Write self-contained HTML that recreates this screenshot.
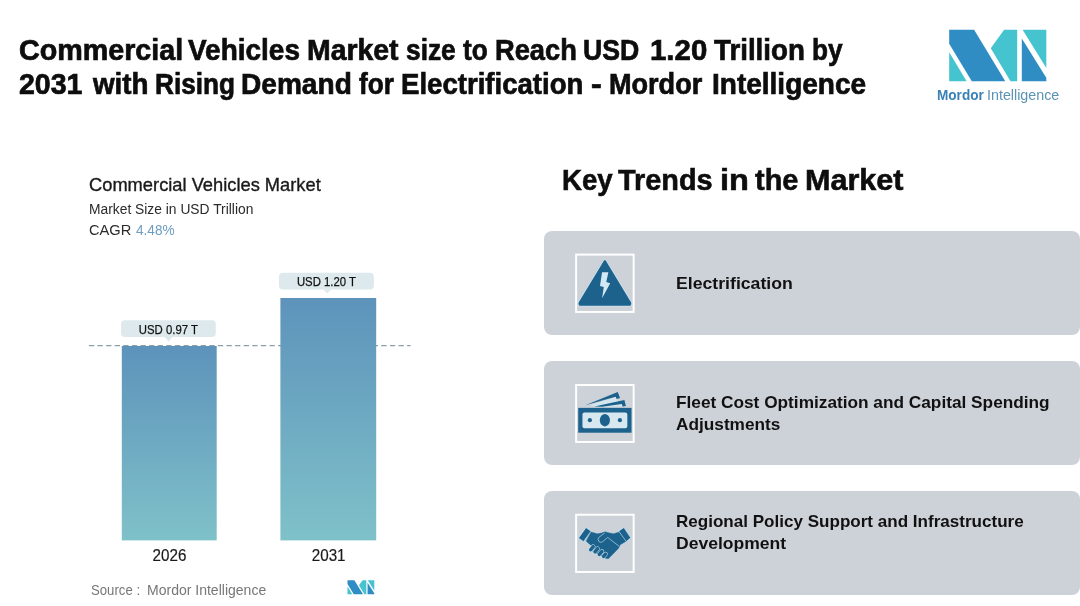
<!DOCTYPE html>
<html lang="en">
<head>
<meta charset="utf-8">
<title>Commercial Vehicles Market</title>
<style>
html,body{margin:0;padding:0;}
body{width:1080px;height:606px;position:relative;overflow:hidden;background:#ffffff;font-family:"Liberation Sans",sans-serif;color:#111;}
.abs{position:absolute;white-space:nowrap;line-height:1;transform-origin:0 50%;}
.title{left:0;font-weight:bold;font-size:29.1px;color:#0d0d0d;-webkit-text-stroke:0.7px #0d0d0d;}
.wl{width:1080px;height:1em;}
.wl span{position:absolute;top:0;white-space:nowrap;transform-origin:0 50%;}
#t1{top:35.8px;}
#t2{top:69.8px;}
.card{position:absolute;left:544.3px;width:535.3px;height:104px;background:#cdd2d9;border-radius:8px;}
.ctext{font-weight:bold;font-size:17px;color:#111;left:676px;}
</style>
</head>
<body>
<div class="abs title wl" id="t1"><span style="left:19.2px;transform:scaleX(0.9859)">Commercial</span> <span style="left:188.2px;transform:scaleX(0.9612)">Vehicles</span> <span style="left:306.8px;transform:scaleX(0.9763)">Market</span> <span style="left:406.0px;transform:scaleX(0.9048)">size</span> <span style="left:462.9px;transform:scaleX(0.9000)">to</span> <span style="left:494.5px;transform:scaleX(0.9375)">Reach</span> <span style="left:583.4px;transform:scaleX(0.9161)">USD</span> <span style="left:650.3px;transform:scaleX(1.0108)">1.20</span> <span style="left:713.9px;transform:scaleX(0.9525)">Trillion</span> <span style="left:811.5px;transform:scaleX(0.9000)">by</span></div>
<div class="abs title wl" id="t2"><span style="left:19.3px;transform:scaleX(0.9802)">2031</span> <span style="left:93.0px;transform:scaleX(0.9549)">with</span> <span style="left:155.0px;transform:scaleX(0.9000)">Rising</span> <span style="left:240.8px;transform:scaleX(0.9651)">Demand</span> <span style="left:358.6px;transform:scaleX(0.9000)">for</span> <span style="left:400.8px;transform:scaleX(0.9479)">Electrification</span> <span style="left:591.4px;transform:scaleX(1.1000)">-</span> <span style="left:609.3px;transform:scaleX(0.9302)">Mordor</span> <span style="left:711.8px;transform:scaleX(0.9627)">Intelligence</span></div>

<!-- logo -->
<svg class="abs" style="left:940px;top:20px" width="120" height="70" viewBox="940 20 120 70">
<polygon points="949.2,29.8 974.1,29.8 1005.3,81.2 971.8,81.2 949.2,43.7" fill="#2f8dc3"/>
<polygon points="949.2,52.3 966.6,81.2 949.2,81.2" fill="#45c3cf"/>
<polygon points="1004.1,29.8 1017.2,29.8 1017.2,81.2 1010.5,81.2 990.8,48.3" fill="#45c3cf"/>
<polygon points="1022.6,29.8 1046.3,29.8 1046.3,67.9" fill="#45c3cf"/>
<polygon points="1021.8,38.5 1046.3,77.7 1046.3,81.2 1021.8,81.2" fill="#2f8dc3"/>
</svg>
<div class="abs" id="lg1" style="left:936.8px;top:87.3px;font-size:15px;font-weight:bold;color:#3a82b5;transform:scaleX(0.906);">Mordor</div>
<div class="abs" id="lg2" style="left:986.6px;top:87.3px;font-size:15px;color:#5b93b5;transform:scaleX(0.953);">Intelligence</div>

<!-- chart text -->
<div class="abs" id="c1" style="left:89.2px;top:175.7px;font-size:18.1px;color:#1a1a1a;transform:scaleX(1.011);-webkit-text-stroke:0.35px #1a1a1a;">Commercial Vehicles Market</div>
<div class="abs" id="c2" style="left:89.1px;top:201.2px;font-size:15.1px;color:#2a2a2a;transform:scaleX(0.9155);">Market Size in USD Trillion</div>
<div class="abs" id="c3" style="left:89.1px;top:222.8px;font-size:14.8px;color:#2a2a2a;transform:scaleX(0.99);">CAGR</div>
<div class="abs" id="c4" style="left:136.2px;top:222.8px;font-size:14.8px;color:#6d9dc0;transform:scaleX(0.919);">4.48%</div>

<!-- chart -->
<svg class="abs" style="left:0;top:260px" width="480" height="346" viewBox="0 260 480 346">
<defs>
<linearGradient id="bg" x1="0" y1="0" x2="0" y2="1">
<stop offset="0" stop-color="#5d93bb"/>
<stop offset="1" stop-color="#7fc1c9"/>
</linearGradient>
</defs>
<line x1="88.9" y1="345.7" x2="410.5" y2="345.7" stroke="#8a9fa6" stroke-width="1.2" stroke-dasharray="5.3 3.3"/>
<rect x="121.8" y="346" width="94.9" height="194.4" fill="url(#bg)"/>
<rect x="280.4" y="298" width="95.8" height="242.4" fill="url(#bg)"/>
<rect x="121" y="320.2" width="94.8" height="16.8" rx="4" fill="#dde9ec"/>
<polygon points="164.6,336.8 172.6,336.8 168.6,341.6" fill="#dde9ec"/>
<rect x="279" y="272.8" width="94.9" height="16.8" rx="4" fill="#dde9ec"/>
<polygon points="323.3,289.4 331.3,289.4 327.3,293.2" fill="#dde9ec"/>
<g transform="translate(347.5,580.3) scale(0.2763,0.272)">
<g transform="translate(-949.2,-29.8)">
<polygon points="949.2,29.8 974.1,29.8 1005.3,81.2 971.8,81.2 949.2,43.7" fill="#2f8dc3"/>
<polygon points="949.2,52.3 966.6,81.2 949.2,81.2" fill="#45c3cf"/>
<polygon points="1004.1,29.8 1017.2,29.8 1017.2,81.2 1010.5,81.2 990.8,48.3" fill="#45c3cf"/>
<polygon points="1022.6,29.8 1046.3,29.8 1046.3,67.9" fill="#45c3cf"/>
<polygon points="1021.8,38.5 1046.3,77.7 1046.3,81.2 1021.8,81.2" fill="#2f8dc3"/>
</g></g>
</svg>
<div class="abs" id="l1" style="left:121px;width:94.8px;text-align:center;top:323px;font-size:13px;color:#111;transform-origin:50% 50%;transform:scaleX(0.873);-webkit-text-stroke:0.25px #111;">USD 0.97 T</div>
<div class="abs" id="l2" style="left:279px;width:94.9px;text-align:center;top:274.9px;font-size:13px;color:#111;transform-origin:50% 50%;transform:scaleX(0.873);-webkit-text-stroke:0.25px #111;">USD 1.20 T</div>
<div class="abs" id="y1" style="-webkit-text-stroke:0.2px #1a1a1a;left:121.6px;width:95px;text-align:center;top:546.6px;font-size:16.5px;color:#1a1a1a;transform:scaleX(0.92);transform-origin:50% 50%;">2026</div>
<div class="abs" id="y2" style="-webkit-text-stroke:0.2px #1a1a1a;left:280.6px;width:95.4px;text-align:center;top:546.6px;font-size:16.5px;color:#1a1a1a;transform:scaleX(0.92);transform-origin:50% 50%;">2031</div>
<div class="abs" id="src" style="left:91px;top:582.5px;font-size:14.4px;color:#777;transform:scaleX(0.915);">Source :</div>
<div class="abs" id="src2" style="left:147.1px;top:582.5px;font-size:14.4px;color:#777;transform:scaleX(0.974);">Mordor Intelligence</div>

<!-- right -->
<div class="abs wl" id="kt" style="left:0;top:164.5px;font-size:29.6px;font-weight:bold;color:#0d0d0d;-webkit-text-stroke:0.6px #0d0d0d;"><span style="left:561.7px;transform:scaleX(0.9330)">Key</span> <span style="left:618.2px;transform:scaleX(0.9755)">Trends</span> <span style="left:720.4px;transform:scaleX(1.1000)">in</span> <span style="left:754.9px;transform:scaleX(0.9790)">the</span> <span style="left:805.0px;transform:scaleX(1.0318)">Market</span></div>

<div class="card" style="top:230.8px"></div>
<div class="card" style="top:361px"></div>
<div class="card" style="top:491.1px"></div>


<!-- icons -->
<svg class="abs" style="left:560px;top:240px" width="100" height="85" viewBox="0 0 713 606">
<rect x="115" y="104" width="410" height="409" fill="none" stroke="#fff" stroke-width="14"/>
<path d="M320 150 L140 448 Q135 462 150 462 L490 462 Q505 462 500 448 Z" fill="#c9e2ef" stroke="#c9e2ef" stroke-width="25" stroke-linejoin="round"/>
<path d="M320 150 L140 448 Q135 462 150 462 L490 462 Q505 462 500 448 Z" fill="#1c628c" stroke="#1c628c" stroke-width="14" stroke-linejoin="round"/>
<polygon points="300,230 345,230 330,300 358,308 300,415 312,335 285,328" fill="#d2e8f4"/>
</svg>
<svg class="abs" style="left:560px;top:370px" width="100" height="85" viewBox="0 0 713 606">
<rect x="115" y="107" width="410" height="406" fill="none" stroke="#fff" stroke-width="14"/>
<polygon points="215,251 397,190 404,206 441,243 446,260 260,262" fill="#d3e6f0"/>
<polygon points="180,252 412,157 428,200 404,206 397,190" fill="#1c628c"/>
<polygon points="245,260 459,214 470,257 446,260 441,243 300,262" fill="#1c628c"/>
<rect x="130" y="270" width="380" height="177" fill="#1c628c"/>
<rect x="160" y="303" width="320" height="112" rx="14" fill="#d8e8f1"/>
<ellipse cx="320" cy="358" rx="36" ry="44" fill="#1c628c"/>
<circle cx="213" cy="358" r="15" fill="#1c628c"/>
<circle cx="427" cy="358" r="15" fill="#1c628c"/>
</svg>
<svg class="abs" style="left:560px;top:500px" width="100" height="85" viewBox="0 0 713 606">
<rect x="115" y="105" width="410" height="408" fill="none" stroke="#fff" stroke-width="14"/>
<g id="hs" stroke-linejoin="round" stroke-linecap="round">
<g fill="#c9e2ef" stroke="#c9e2ef" stroke-width="9">
<polygon points="220.7,227.3 265.7,240.5 294.9,235.2 321.3,226.2 347.8,233.6 382.2,240.5 421.9,227.3 472.2,293.5 429.8,319.9 416.6,346.4 345.1,418.9 329.3,417.8 212.8,354.3 226.0,327.9 186.3,293.5"/>
<polygon points="186.3,198.2 220.7,222.0 167.8,296.1 133.4,272.3"/>
<polygon points="456.3,198.2 503.9,269.6 472.2,296.1 419.2,222.0"/>
<g stroke-width="34"><line x1="218.5" y1="354.7" x2="236.8" y2="332.7"/>
<line x1="249.7" y1="369.0" x2="268.0" y2="347.0"/>
<line x1="280.4" y1="388.1" x2="298.7" y2="366.1"/>
<line x1="310.8" y1="401.6" x2="324.4" y2="385.3"/>
</g>
</g>
<g fill="#1c628c" stroke="#1c628c" stroke-width="3">
<polygon points="220.7,227.3 265.7,240.5 294.9,235.2 321.3,226.2 347.8,233.6 382.2,240.5 421.9,227.3 472.2,293.5 429.8,319.9 416.6,346.4 345.1,418.9 329.3,417.8 212.8,354.3 226.0,327.9 186.3,293.5"/>
</g>
<g stroke="#c9e2ef" stroke-width="32"><line x1="218.5" y1="354.7" x2="236.8" y2="332.7"/>
<line x1="249.7" y1="369.0" x2="268.0" y2="347.0"/>
<line x1="280.4" y1="388.1" x2="298.7" y2="366.1"/>
<line x1="310.8" y1="401.6" x2="324.4" y2="385.3"/>
</g>
<g stroke="#1c628c" stroke-width="25"><line x1="218.5" y1="354.7" x2="236.8" y2="332.7"/>
<line x1="249.7" y1="369.0" x2="268.0" y2="347.0"/>
<line x1="280.4" y1="388.1" x2="298.7" y2="366.1"/>
<line x1="310.8" y1="401.6" x2="324.4" y2="385.3"/>
</g>
<g fill="#1c628c" stroke="#c9e2ef" stroke-width="4">
<polygon points="186.3,198.2 220.7,222.0 167.8,296.1 133.4,272.3"/>
<polygon points="456.3,198.2 503.9,269.6 472.2,296.1 419.2,222.0"/>
</g>
<path d="M316.0 236.8 L276.3 267.0 Q265.7 281.3 277.4 296.1 Q289.6 307.7 303.8 297.2 L339.8 267.0 L419.2 327.9" fill="none" stroke="#c9e2ef" stroke-width="4.5"/>
</g>
</svg>
<div class="abs ctext" id="x1" style="top:274.8px;left:675.9px;transform:scaleX(1.039);">Electrification</div>
<div class="abs ctext" id="x2a" style="top:394px;left:676.3px;transform:scaleX(1.0144);">Fleet Cost Optimization and Capital Spending</div>
<div class="abs ctext" id="x2b" style="top:416.2px;left:675.7px;transform:scaleX(1.014);">Adjustments</div>
<div class="abs ctext" id="x3a" style="top:512.8px;left:676.3px;transform:scaleX(1.003);">Regional Policy Support and Infrastructure</div>
<div class="abs ctext" id="x3b" style="top:535px;left:676.3px;transform:scaleX(1.032);">Development</div>
</body>
</html>
